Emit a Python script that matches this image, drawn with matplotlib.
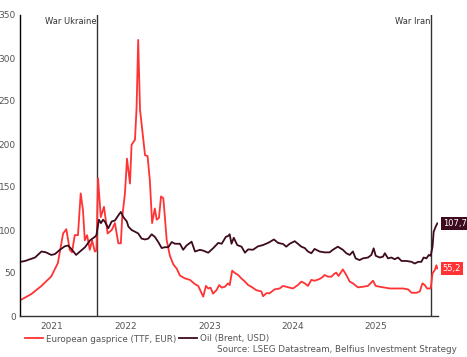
import matplotlib
matplotlib.use("Agg")
import matplotlib.pyplot as plt
import matplotlib.dates as mdates
import pandas as pd

# ---------------- data ----------------
gas_dates = ["2021-03-28","2021-05-14","2021-06-27","2021-08-09","2021-09-07","2021-09-30","2021-10-14",
             "2021-10-29","2021-11-08","2021-11-20","2021-12-04","2021-12-16","2021-12-26","2022-01-03",
             "2022-01-13","2022-01-25","2022-02-04","2022-02-16","2022-02-23","2022-03-02","2022-03-14",
             "2022-03-28","2022-04-13","2022-05-01","2022-05-15","2022-05-30","2022-06-10","2022-06-16",
             "2022-06-28","2022-07-07","2022-07-20","2022-07-27","2022-08-11","2022-08-18","2022-08-25",
             "2022-09-02","2022-09-12","2022-09-24","2022-10-05","2022-10-15","2022-10-25","2022-11-06",
             "2022-11-14","2022-11-24","2022-12-03","2022-12-13","2022-12-20","2022-12-28","2023-01-11",
             "2023-01-26","2023-02-10","2023-02-24","2023-03-18","2023-04-09","2023-05-01","2023-05-15",
             "2023-05-30","2023-06-06","2023-06-18","2023-06-28","2023-07-08","2023-07-19","2023-08-03",
             "2023-08-15","2023-08-26","2023-09-09","2023-09-23","2023-09-30","2023-10-11","2023-10-23",
             "2023-11-06","2023-11-21","2023-12-06","2023-12-20","2024-01-03","2024-01-25","2024-02-16",
             "2024-02-23","2024-03-09","2024-03-23","2024-04-14","2024-05-06","2024-05-21","2024-06-11",
             "2024-07-03","2024-07-25","2024-08-09","2024-08-24","2024-09-07","2024-09-22","2024-10-06",
             "2024-10-28","2024-11-12","2024-11-19","2024-12-04","2024-12-19","2024-12-30","2025-01-09",
             "2025-01-19","2025-02-07","2025-02-22","2025-03-09","2025-03-23","2025-04-14","2025-05-06",
             "2025-05-28","2025-06-19","2025-07-01","2025-07-19","2025-08-10","2025-09-01","2025-09-30",
             "2025-10-29","2025-11-20","2025-12-05","2025-12-27","2026-01-10","2026-01-22","2026-02-01",
             "2026-02-11","2026-02-27","2026-03-07","2026-03-17","2026-03-24","2026-03-28"]
gas_values = [18.6,25.6,35,46,61.6,96,101,
              77,74,94,94,142.6,123,88,
              94,77,88,75,76,160,115,
              127,96,100,108,84.5,84.5,115,
              142.6,183,154,199,205,243,321,
              240,216,187,186,158,108,125,
              112,114,139,137,115,88,70,
              60,55,47,43.7,42,37,35,
              26.4,22.5,35,32,33,26,30,
              36,33,34,38,36,52.7,50,
              47.7,43.5,40,36,34,30,28.5,
              23,26.5,26.4,31,32,35,33.5,
              32,36,40,38,35,42,41,
              43,45.7,47.7,45.7,45.7,48.8,50.4,
              46.5,54.2,47.7,40,38,33.3,34,
              35,41,35,34,33,32,32,
              32,31,27,27,28.5,38,36,
              32,32,49.6,53.5,59,55.2]

oil_dates = ["2021-03-28","2021-04-16","2021-05-08","2021-05-30","2021-06-27","2021-07-17","2021-08-09",
             "2021-08-25","2021-09-16","2021-10-07","2021-10-22","2021-11-08","2021-11-26","2021-12-13",
             "2022-01-04","2022-01-26","2022-02-16","2022-02-23","2022-03-06","2022-03-15","2022-03-24",
             "2022-04-01","2022-04-16","2022-05-01","2022-05-15","2022-05-30","2022-06-10","2022-06-21",
             "2022-07-06","2022-07-13","2022-07-27","2022-08-11","2022-08-25","2022-09-09","2022-09-24",
             "2022-10-08","2022-10-23","2022-11-06","2022-11-21","2022-12-06","2022-12-20","2023-01-04",
             "2023-01-19","2023-02-02","2023-02-17","2023-02-24","2023-03-10","2023-03-25","2023-04-16",
             "2023-05-01","2023-05-23","2023-06-06","2023-06-28","2023-07-19","2023-08-11","2023-08-26",
             "2023-09-13","2023-09-23","2023-09-30","2023-10-08","2023-10-18","2023-11-02","2023-11-21",
             "2023-12-06","2023-12-20","2024-01-10","2024-02-01","2024-02-23","2024-03-16","2024-03-23",
             "2024-04-11","2024-04-29","2024-05-21","2024-06-04","2024-06-19","2024-07-11","2024-07-25",
             "2024-08-09","2024-08-24","2024-09-07","2024-09-22","2024-10-06","2024-10-28","2024-11-19",
             "2024-12-11","2024-12-25","2025-01-16","2025-02-07","2025-02-22","2025-03-09","2025-03-23",
             "2025-04-04","2025-04-21","2025-05-06","2025-05-28","2025-06-12","2025-06-22","2025-07-01",
             "2025-07-19","2025-08-02","2025-08-10","2025-08-24","2025-09-08","2025-09-22","2025-10-07",
             "2025-10-22","2025-11-13","2025-12-05","2025-12-19","2026-01-03","2026-01-17","2026-01-27",
             "2026-02-08","2026-02-19","2026-02-27","2026-03-07","2026-03-12","2026-03-21","2026-03-28"]
oil_values = [63,64,66,68,75,74,71,
              72,77,81,82,77,71,75,
              80,88,92,94,112,108,112,
              109.7,102,110,111,117,121,115,
              110,104,100,98,96,90,89,
              90,95,92,86,79,80,80,
              86,84,84,84,77,82,86.4,
              75,77,76,73.6,78.7,85,84,
              92,93,95,84,91,82.5,80.6,
              73.6,77.5,77,81,82.5,85,86,
              89,85,83.7,80.6,84,87,84,
              80.6,79,75,73,78,75,74,
              74,77,80.6,77,73,71,75,
              67,65,67,68,71,78.7,70,
              68,69,73,67,68,66,68,
              64,64,63,61,63,63,68,
              67,71,70,80.6,98,104,107.7]

year_labels = ["2021", "2022", "2023", "2024", "2025"]
events = [("2022-02-24", "War Ukraine"), ("2026-02-28", "War Iran")]
series_names = ["European gasprice (TTF, EUR)", "Oil (Brent, USD)"]
source = "Source: LSEG Datastream, Belfius Investment Strategy"

# ---------------- style ----------------
RED = "#FF3333"
DARK = "#3D0A1E"
GREY = "#555555"
plt.rcParams['font.family'] = ['DejaVu Sans']

fig = plt.figure(figsize=(4.67, 3.57), dpi=100)
ax = fig.add_axes([20/467, 1-316/357, (438-20)/467, (316-15)/357])

gd = pd.to_datetime(gas_dates)
od = pd.to_datetime(oil_dates)
l1, = ax.plot(gd, gas_values, color=RED, lw=1.3, label=series_names[0], solid_joinstyle='round')
l2, = ax.plot(od, oil_values, color=DARK, lw=1.3, label=series_names[1], solid_joinstyle='round')

x0 = pd.Timestamp("2021-03-25")
x1 = pd.Timestamp("2026-03-31")
ax.set_xlim(x0, x1)
ax.set_ylim(0, 350)

for d, txt in events:
    dt = pd.Timestamp(d)
    ax.axvline(dt, color="#333333", lw=1.0, zorder=1)
    ax.text(dt, 343, txt, ha='right', va='center', fontsize=6, color="#333333")

# end value labels
ax.annotate(f"{oil_values[-1]:.1f}".replace('.', ','), xy=(od[-1], oil_values[-1]),
            xytext=(4, 0), textcoords='offset points', ha='left', va='center', fontsize=6,
            color='white', bbox=dict(boxstyle='square,pad=0.2', fc=DARK, ec='none'),
            annotation_clip=False)
ax.annotate(f"{gas_values[-1]:.1f}".replace('.', ','), xy=(gd[-1], gas_values[-1]),
            xytext=(4, 0), textcoords='offset points', ha='left', va='center', fontsize=6,
            color='white', bbox=dict(boxstyle='square,pad=0.2', fc=RED, ec='none'),
            annotation_clip=False)

# x axis: labels centred on visible part of each year
xmin_num, xmax_num = ax.get_xlim()
pos = []
for y in year_labels:
    a = max(mdates.date2num(pd.Timestamp(f"{y}-01-01")), xmin_num)
    b = min(mdates.date2num(pd.Timestamp(f"{int(y)+1}-01-01")), xmax_num)
    pos.append((a + b) / 2)
ax.set_xticks(pos)
ax.set_xticklabels(year_labels)
ax.tick_params(axis='x', length=0, labelsize=6.5, labelcolor=GREY, pad=4)

ax.set_yticks(range(0, 351, 50))
ax.tick_params(axis='y', length=0, labelsize=6.5, labelcolor=GREY, pad=3)

for s in ['top', 'right']:
    ax.spines[s].set_visible(False)
ax.spines['left'].set_color('black')
ax.spines['bottom'].set_color('#333333')
ax.spines['left'].set_linewidth(1.0)
ax.spines['bottom'].set_linewidth(1.0)

fig.legend(handles=[l1, l2], loc='center left', bbox_to_anchor=(25/467, 1-339/357), ncol=2,
           frameon=False, fontsize=6.3, labelcolor=GREY, handlelength=2.0, handletextpad=0.4,
           columnspacing=0.3, borderaxespad=0, borderpad=0)
fig.text(457/467, 1-350/357, source, ha='right', va='center', fontsize=6.3, color=GREY)

fig.savefig("out.png", dpi=100)
